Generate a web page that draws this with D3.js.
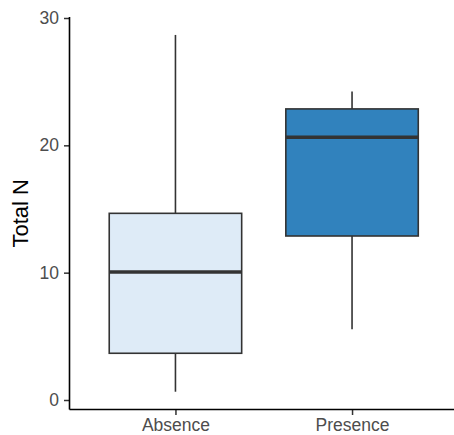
<!DOCTYPE html>
<html>
<head>
<meta charset="utf-8">
<script src="https://cdn.jsdelivr.net/npm/d3@7"></script>
<style>
  html, body { margin: 0; padding: 0; background: #fff; }
  svg { display: block; }
</style>
</head>
<body>
<svg id="chart" width="454" height="435"></svg>
<script>
const categories = ["Absence", "Presence"];
const whiskerLow  = [0.65, 5.55];
const q1          = [3.67, 12.88];
const medians     = [10.05, 20.64];
const q3          = [14.66, 22.86];
const whiskerHigh = [28.67, 24.22];
const fills       = ["#deebf7", "#3182bd"];
const yTicks      = [0, 10, 20, 30];
const yTitle      = "Total N";

const svg = d3.select("#chart");
const panelLeft = 69.5, panelRight = 458, panelTop = 17, panelBottom = 409.5;

const x = d3.scalePoint().domain(categories).range([panelLeft, panelRight]).padding(0.6);
const step = x.step();
const boxW = step * 0.75;
const y = d3.scaleLinear().domain([0, 30]).range([400, 18]);

const data = categories.map((c, i) => ({
  c, lo: whiskerLow[i], q1: q1[i], med: medians[i], q3: q3[i], hi: whiskerHigh[i], fill: fills[i]
}));

const g = svg.append("g");
const stroke = "#333333";

// whiskers
g.selectAll(".wUp").data(data).enter().append("line")
  .attr("x1", d => x(d.c)).attr("x2", d => x(d.c))
  .attr("y1", d => y(d.q3)).attr("y2", d => y(d.hi))
  .attr("stroke", stroke).attr("stroke-width", 1.6);
g.selectAll(".wDn").data(data).enter().append("line")
  .attr("x1", d => x(d.c)).attr("x2", d => x(d.c))
  .attr("y1", d => y(d.q1)).attr("y2", d => y(d.lo))
  .attr("stroke", stroke).attr("stroke-width", 1.6);
// boxes
g.selectAll(".box").data(data).enter().append("rect")
  .attr("x", d => x(d.c) - boxW / 2).attr("width", boxW)
  .attr("y", d => y(d.q3)).attr("height", d => y(d.q1) - y(d.q3))
  .attr("fill", d => d.fill).attr("stroke", stroke).attr("stroke-width", 1.6);
// medians
g.selectAll(".med").data(data).enter().append("line")
  .attr("x1", d => x(d.c) - boxW / 2).attr("x2", d => x(d.c) + boxW / 2)
  .attr("y1", d => y(d.med)).attr("y2", d => y(d.med))
  .attr("stroke", stroke).attr("stroke-width", 3.4);

// y axis
const yAxis = svg.append("g").attr("transform", `translate(${panelLeft},0)`)
  .call(d3.axisLeft(y).tickValues(yTicks).tickSize(5.5).tickPadding(5).tickSizeOuter(0));
yAxis.select(".domain").remove();
yAxis.append("line").attr("x1", 0).attr("x2", 0).attr("y1", panelTop).attr("y2", panelBottom)
  .attr("stroke", "#000").attr("stroke-width", 1.6);
yAxis.selectAll(".tick line").attr("stroke", stroke).attr("stroke-width", 1.5);
yAxis.selectAll(".tick text").attr("fill", "#4d4d4d")
  .style("font-family", "Liberation Sans, Arial, sans-serif").style("font-size", "17.5px");

// x axis
const xAxis = svg.append("g").attr("transform", `translate(0,${panelBottom})`)
  .call(d3.axisBottom(x).tickSize(5.5).tickPadding(4).tickSizeOuter(0));
xAxis.select(".domain").remove();
xAxis.append("line").attr("x1", panelLeft).attr("x2", 454).attr("y1", 0).attr("y2", 0)
  .attr("stroke", "#000").attr("stroke-width", 1.6);
xAxis.selectAll(".tick line").attr("stroke", stroke).attr("stroke-width", 1.5);
xAxis.selectAll(".tick text").attr("fill", "#4d4d4d")
  .style("font-family", "Liberation Sans, Arial, sans-serif").style("font-size", "17.5px");

// y title
svg.append("text")
  .attr("transform", `translate(28,${(panelTop + panelBottom) / 2}) rotate(-90)`)
  .attr("text-anchor", "middle")
  .style("font-family", "Liberation Sans, Arial, sans-serif").style("font-size", "22px")
  .attr("fill", "#000").text(yTitle);
</script>
</body>
</html>
